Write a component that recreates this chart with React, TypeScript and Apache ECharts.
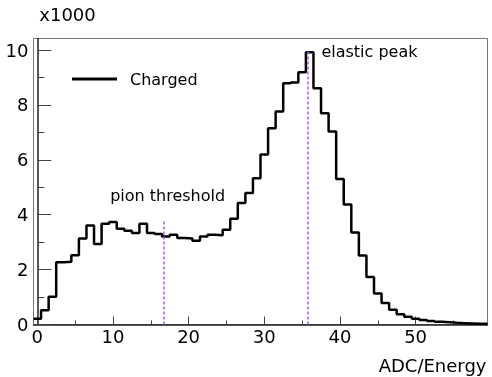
import React, { useEffect, useRef } from "react";
import * as echarts from "echarts";

// Histogram counts (in thousands) for bins centred on 0..59 (bin width 1)
const counts = [
  0.21, 0.52, 1.01, 2.27, 2.29, 2.52, 3.13, 3.61, 2.93, 3.67,
  3.73, 3.49, 3.42, 3.33, 3.67, 3.33, 3.30, 3.21, 3.27, 3.15,
  3.13, 3.05, 3.21, 3.27, 3.25, 3.45, 3.85, 4.43, 4.79, 5.33,
  6.19, 7.15, 7.76, 8.79, 8.82, 9.19, 9.92, 8.61, 7.70, 7.03,
  5.30, 4.37, 3.35, 2.51, 1.73, 1.13, 0.78, 0.54, 0.37, 0.28,
  0.21, 0.16, 0.13, 0.10, 0.08, 0.06, 0.05, 0.04, 0.03, 0.03,
];
const binWidth = 1;
const firstBinCenter = 0;

const xTicks = [0, 10, 20, 30, 40, 50];
const xMinorTicks = [5, 15, 25, 35, 45, 55];
const yTicks = [0, 2, 4, 6, 8, 10];
const yMinorTicks = [1, 3, 5, 7, 9];

const markerNames = ["pion threshold", "elastic peak"];
const markerX = [16.7, 35.7];
const markerTop = [3.78, 10.0];

const seriesName = "Charged";
const xName = "ADC/Energy";
const yName = "x1000";

export default function App() {
  const ref = useRef<HTMLDivElement>(null);
  useEffect(() => {
    const chart = echarts.init(ref.current!, undefined, { renderer: "svg" });
    const font = "DejaVu Sans";
    const lo = firstBinCenter - binWidth / 2;
    const stepData: number[][] = counts.map((v, i) => [lo + i * binWidth, v]);
    stepData.push([lo + counts.length * binWidth, counts[counts.length - 1]]);
    const xMin = lo;
    const xMax = lo + counts.length * binWidth;
    const yMax = 10.42;

    chart.setOption({
      animation: false,
      grid: {
        left: 33.5,
        right: 4.5,
        top: 38.5,
        bottom: 52.5,
        containLabel: false,
        outerBoundsMode: "none",
        show: true,
        borderColor: "#777",
        borderWidth: 1,
      },
      legend: {
        left: 72,
        top: 71,
        padding: 0,
        itemWidth: 45,
        itemHeight: 3,
        icon: "rect",
        data: [seriesName],
        textStyle: {
          fontFamily: font,
          fontSize: 16,
          color: "#000",
          padding: [0, 0, 0, 8],
        },
      },
      xAxis: [
        {
          type: "value",
          min: xMin,
          max: xMax,
          position: "bottom",
          axisLine: { show: true, lineStyle: { color: "#222", width: 1.5 } },
          axisTick: {
            show: true,
            inside: true,
            length: 8,
            customValues: xTicks,
            lineStyle: { color: "#444", width: 1 },
          },
          axisLabel: {
            customValues: xTicks,
            fontFamily: font,
            fontSize: 18,
            color: "#000",
            margin: 3,
          },
          splitLine: { show: false },
        },
        {
          type: "value",
          min: xMin,
          max: xMax,
          position: "bottom",
          axisLine: { show: false },
          axisLabel: { show: false },
          axisTick: {
            show: true,
            inside: true,
            length: 4,
            customValues: xMinorTicks,
            lineStyle: { color: "#444", width: 1 },
          },
          splitLine: { show: false },
        },
      ],
      yAxis: [
        {
          type: "value",
          min: 0,
          max: yMax,
          position: "left",
          name: yName,
          nameLocation: "end",
          nameGap: 24,
          nameTextStyle: {
            fontFamily: font,
            fontSize: 18,
            color: "#000",
            align: "left",
            verticalAlign: "middle",
            padding: [0, 0, 0, 2],
          },
          axisLine: { show: true, lineStyle: { color: "#222", width: 1.5 } },
          axisTick: {
            show: true,
            inside: true,
            length: 14,
            customValues: yTicks,
            lineStyle: { color: "#444", width: 1 },
          },
          axisLabel: {
            customValues: yTicks,
            fontFamily: font,
            fontSize: 18,
            color: "#000",
            margin: 5,
          },
          splitLine: { show: false },
        },
        {
          type: "value",
          min: 0,
          max: yMax,
          position: "left",
          axisLine: { show: false },
          axisLabel: { show: false },
          axisTick: {
            show: true,
            inside: true,
            length: 7,
            customValues: yMinorTicks,
            lineStyle: { color: "#444", width: 1 },
          },
          splitLine: { show: false },
        },
      ],
      series: [
        {
          type: "line",
          name: seriesName,
          xAxisIndex: 0,
          yAxisIndex: 0,
          data: stepData,
          step: "end",
          symbol: "none",
          showSymbol: false,
          lineStyle: { color: "#000", width: 2.5 },
          itemStyle: { color: "#000" },
          markLine: {
            silent: true,
            symbol: ["none", "none"],
            label: { show: false },
            lineStyle: { color: "#a259ff", type: [3, 2], width: 1.5 },
            data: markerX.map((x, i) => [
              { coord: [x, 0] },
              { coord: [x, markerTop[i]] },
            ]),
          },
        },
      ],
    });

    const p0 = chart.convertToPixel({ seriesIndex: 0 }, [markerX[0], markerTop[0]]) as number[];
    const p1 = chart.convertToPixel({ seriesIndex: 0 }, [markerX[1], markerTop[1]]) as number[];
    const axisEnd = chart.convertToPixel({ seriesIndex: 0 }, [xMax, 0]) as number[];
    chart.setOption({
      graphic: [
        {
          type: "text",
          x: p0[0] + 4,
          y: p0[1] - 25,
          style: {
            text: markerNames[0],
            fontFamily: font,
            fontSize: 16,
            fill: "#000",
            align: "center",
            verticalAlign: "middle",
          },
        },
        {
          type: "text",
          x: p1[0] + 14,
          y: p1[1] + 1,
          style: {
            text: markerNames[1],
            fontFamily: font,
            fontSize: 16,
            fill: "#000",
            align: "left",
            verticalAlign: "middle",
          },
        },
        {
          type: "text",
          x: axisEnd[0] - 1,
          y: axisEnd[1] + 41,
          style: {
            text: xName,
            fontFamily: font,
            fontSize: 18,
            fill: "#000",
            align: "right",
            verticalAlign: "middle",
          },
        },
      ],
    });

    return () => chart.dispose();
  }, []);
  return (
    <div
      ref={ref}
      style={{ position: "fixed", left: 0, top: 0, width: 492, height: 377 }}
    />
  );
}
